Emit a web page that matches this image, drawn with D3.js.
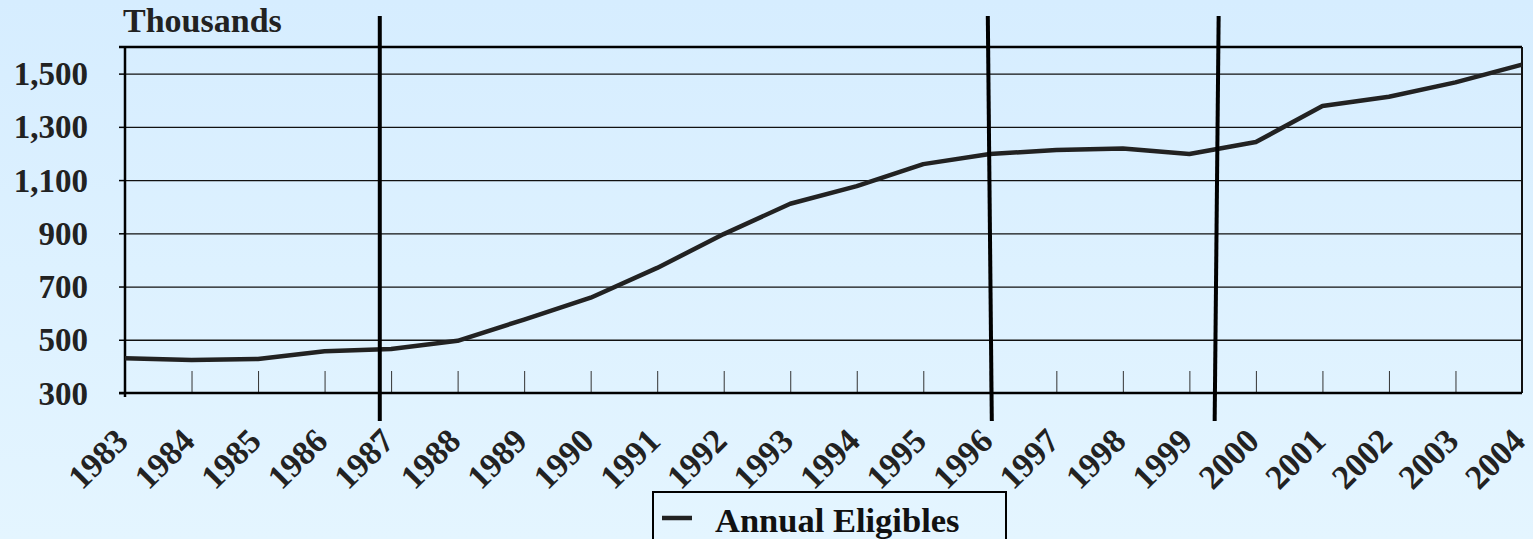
<!DOCTYPE html>
<html>
<head>
<meta charset="utf-8">
<script src="https://cdn.jsdelivr.net/npm/d3@7/dist/d3.min.js"></script>
<style>
  html, body { margin: 0; padding: 0; }
  body { width: 1533px; height: 539px; overflow: hidden; }
  svg { display: block; }
</style>
</head>
<body>
<svg id="chart" width="1533" height="539"></svg>
<script>
// Annual eligibles, in thousands
const years = [1983, 1984, 1985, 1986, 1987, 1988, 1989, 1990, 1991, 1992, 1993,
               1994, 1995, 1996, 1997, 1998, 1999, 2000, 2001, 2002, 2003, 2004];
const eligibles = [431, 424, 428, 457, 465, 496, 576, 658, 770, 897, 1011,
                   1077, 1160, 1198, 1213, 1219, 1198, 1243, 1378, 1413, 1467, 1534];
const yTicks = [300, 500, 700, 900, 1100, 1300, 1500];
// Vertical reference markers (year position at top and at bottom)
const markers = [[1986.83, 1986.83], [1995.97, 1996.03], [1999.44, 1999.38]];
const seriesName = "Annual Eligibles";
const unitLabel = "Thousands";

const W = 1533, H = 539;
const margin = { left: 125, right: 11, top: 47, bottom: 146 };
const x0 = margin.left, x1 = W - margin.right;
const yTop = margin.top, yBot = H - margin.bottom;

const svg = d3.select("#chart");
const font = "'Liberation Serif', 'Times New Roman', serif";

// background gradient
const defs = svg.append("defs");
const grad = defs.append("linearGradient").attr("id", "bg")
  .attr("x1", 0).attr("y1", 0).attr("x2", 0).attr("y2", 1);
grad.append("stop").attr("offset", "0%").attr("stop-color", "#d6edff");
grad.append("stop").attr("offset", "100%").attr("stop-color", "#e4f5ff");
svg.append("rect").attr("width", W).attr("height", H).attr("fill", "url(#bg)");

const x = d3.scaleLinear().domain([1983, 2004]).range([x0, x1]);
const y = d3.scaleLinear().domain([300, 1600]).range([yBot, yTop]);

// horizontal gridlines with short outer ticks
const yAxis = d3.axisLeft(y).tickValues(yTicks).tickSize(6).tickFormat("");
const gy = svg.append("g").attr("transform", `translate(${x0},0)`).call(yAxis);
gy.select(".domain").remove();
gy.selectAll(".tick line").attr("stroke", "#000").attr("stroke-width", 1.5);
const grid = d3.axisLeft(y).tickValues(yTicks.slice(1)).tickSize(-(x1 - x0)).tickFormat("");
const gg = svg.append("g").attr("transform", `translate(${x0},0)`).call(grid);
gg.select(".domain").remove();
gg.selectAll(".tick line").attr("stroke", "#111").attr("stroke-width", 1.3);

// y labels
svg.append("g").selectAll("text").data(yTicks).join("text")
  .attr("x", 88).attr("y", d => y(d))
  .attr("dy", "0.35em")
  .attr("text-anchor", "end")
  .attr("font-family", font).attr("font-weight", "bold").attr("font-size", 33)
  .attr("fill", "#222")
  .text(d => d3.format(",")(d));

// unit label
svg.append("text").attr("x", 123).attr("y", 32)
  .attr("font-family", font).attr("font-weight", "bold").attr("font-size", 34)
  .attr("fill", "#222").text(unitLabel);

// inner x ticks
const xAxis = d3.axisBottom(x).tickValues(years).tickSize(-22).tickFormat("");
const gx = svg.append("g").attr("transform", `translate(0,${yBot})`).call(xAxis);
gx.select(".domain").remove();
gx.selectAll(".tick line").attr("stroke", "#333").attr("stroke-width", 1);

// frame: top, right, left, bottom
svg.append("line").attr("x1", x0 - 6).attr("x2", x1).attr("y1", yTop).attr("y2", yTop)
  .attr("stroke", "#000").attr("stroke-width", 2.5);
svg.append("line").attr("x1", x1).attr("x2", x1).attr("y1", yTop).attr("y2", yBot)
  .attr("stroke", "#111").attr("stroke-width", 2);
svg.append("line").attr("x1", x0).attr("x2", x0).attr("y1", yTop).attr("y2", yBot + 4)
  .attr("stroke", "#000").attr("stroke-width", 2.5);
svg.append("line").attr("x1", x0 - 6).attr("x2", x1).attr("y1", yBot).attr("y2", yBot)
  .attr("stroke", "#000").attr("stroke-width", 2.5);

// x labels, rotated
svg.append("g").selectAll("text").data(years).join("text")
  .attr("transform", d => `translate(${x(d) + 5},${yBot + 50}) rotate(-45)`)
  .attr("text-anchor", "end")
  .attr("font-family", font).attr("font-weight", "bold").attr("font-size", 34)
  .attr("fill", "#222")
  .text(d => d);

// series line
const line = d3.line().x((d, i) => x(years[i])).y(d => y(d));
svg.append("path").datum(eligibles)
  .attr("d", line)
  .attr("fill", "none").attr("stroke", "#222").attr("stroke-width", 4.5)
  .attr("stroke-linejoin", "round");

// vertical markers
svg.append("g").selectAll("line").data(markers).join("line")
  .attr("x1", d => x(d[0])).attr("x2", d => x(d[1]))
  .attr("y1", 16).attr("y2", 421)
  .attr("stroke", "#000").attr("stroke-width", 4);

// legend
const lg = svg.append("g");
lg.append("rect").attr("x", 653).attr("y", 492).attr("width", 353).attr("height", 60)
  .attr("fill", "none").attr("stroke", "#000").attr("stroke-width", 2);
lg.append("line").attr("x1", 662).attr("x2", 692).attr("y1", 518).attr("y2", 518)
  .attr("stroke", "#222").attr("stroke-width", 4.5);
lg.append("text").attr("x", 715).attr("y", 532)
  .attr("font-family", font).attr("font-weight", "bold").attr("font-size", 34.5)
  .attr("fill", "#111").text(seriesName);
</script>
</body>
</html>
